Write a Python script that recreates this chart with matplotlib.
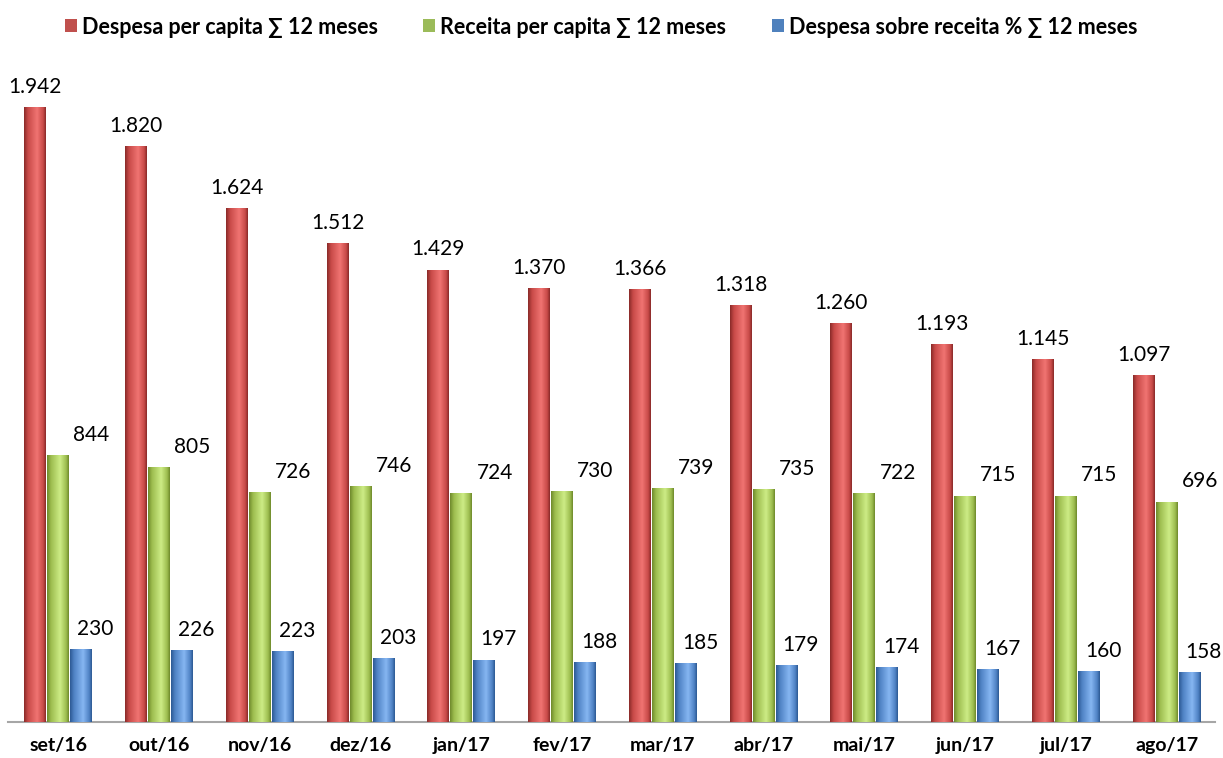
import numpy as np
import matplotlib.pyplot as plt
from matplotlib.patches import Patch

meses = ['set/16', 'out/16', 'nov/16', 'dez/16', 'jan/17', 'fev/17',
         'mar/17', 'abr/17', 'mai/17', 'jun/17', 'jul/17', 'ago/17']
despesa = [1942, 1820, 1624, 1512, 1429, 1370, 1366, 1318, 1260, 1193, 1145, 1097]
receita = [844, 805, 726, 746, 724, 730, 739, 735, 722, 715, 715, 696]
desp_rec = [230, 226, 223, 203, 197, 188, 185, 179, 174, 167, 160, 158]

nomes = ['Despesa per capita \u2211 12 meses',
         'Receita per capita \u2211 12 meses',
         'Despesa sobre receita % \u2211 12 meses']
base = ['#C0504D', '#9BBB59', '#4F81BD']
# (dark edge, mid, light highlight)
tons = [('#8a2a29', '#c84a48', '#f07472'),
        ('#6f8a2c', '#9dbd4f', '#cdec86'),
        ('#2d5a94', '#4f82c4', '#86b6f2')]

FONT = ['Lato', 'DejaVu Sans']
plt.rcParams['font.family'] = FONT

fig = plt.figure(figsize=(12.23, 7.58), dpi=100)
ax = fig.add_axes([8/1223, 36/758, 1207/1223, 632/758])

def hex2rgb(h):
    return np.array([int(h[i:i+2], 16) for i in (1, 3, 5)]) / 255.0

def gradiente(c):
    dark, mid, light = [hex2rgb(x) for x in c]
    t = np.linspace(0, 1, 64)
    stops = [0, 0.18, 0.6, 0.88, 1]
    cols = [dark, mid, light, mid, dark]
    img = np.zeros((1, 64, 3))
    for k in range(3):
        img[0, :, k] = np.interp(t, stops, [cc[k] for cc in cols])
    return img

x = np.arange(len(meses))
w = 0.218
offs = [-0.228, 0.0, 0.228]
lab_dx = [0.0, 0.33, 0.14]
series = [despesa, receita, desp_rec]

for s, (vals, off) in enumerate(zip(series, offs)):
    bars = ax.bar(x + off, vals, w, color=base[s], zorder=2)
    img = gradiente(tons[s])
    for b, v in zip(bars, vals):
        x0 = b.get_x()
        im = ax.imshow(img, extent=[x0, x0 + w, 0, v], aspect='auto', zorder=3,
                       interpolation='bilinear')
        im.set_clip_path(b)
        txt = '{:,}'.format(v).replace(',', '.')
        ax.text(x0 + w/2 + lab_dx[s], v + 32, txt, ha='center', va='bottom',
                fontsize=15, color='black', zorder=4)

ax.set_xlim(-0.5, 11.48)
ax.set_ylim(0, 1996)
ax.set_xticks(x)
ax.set_xticklabels(meses, fontsize=14, fontweight='bold')
ax.tick_params(axis='x', length=0, pad=11)
ax.set_yticks([])
for sp in ['top', 'left', 'right']:
    ax.spines[sp].set_visible(False)
ax.spines['bottom'].set_color('#a6a6a6')
ax.spines['bottom'].set_linewidth(1.5)

handles = [Patch(facecolor=c, edgecolor='none') for c in base]
fig.legend(handles, nomes, loc='center', bbox_to_anchor=(0.4915, 1 - 27/758),
           ncol=3, frameon=False, handlelength=0.55, handleheight=0.55,
           handletextpad=0.25, columnspacing=2.1,
           prop={'family': FONT, 'weight': 'bold', 'size': 15.5})

fig.savefig('out.png', dpi=100)
